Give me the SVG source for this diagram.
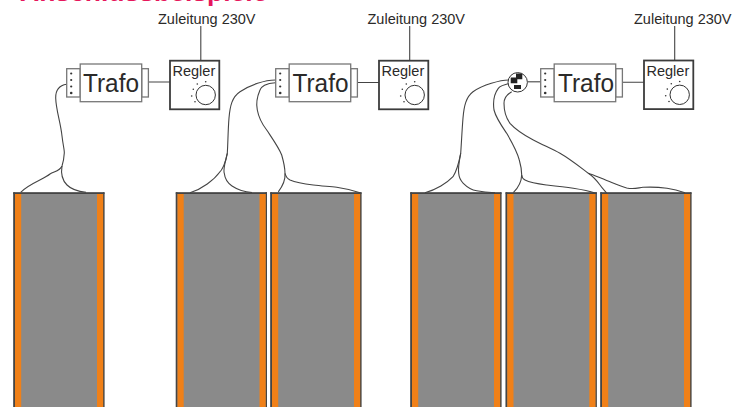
<svg xmlns="http://www.w3.org/2000/svg" width="748" height="407" viewBox="0 0 748 407">
<defs>
<style>
text{font-family:"Liberation Sans",Arial,sans-serif;fill:#2b2a29}
.title{font-size:26.500px;font-weight:bold;fill:#e6175c}
.z{font-size:14.500px}
.t{font-size:26px}
.r{font-size:14.500px}
.box{fill:#fff;stroke:#777;stroke-width:1.300}
.reg{fill:#fff;stroke:#3c3c3c;stroke-width:1.800}
.ln{fill:none;stroke:#444;stroke-width:1.100}
.w{fill:none;stroke:#444;stroke-width:1.100}
.d{fill:#333}
.panel{fill:#8a8a8a}
.o{fill:#f08018}
.edge{fill:#454545}
</style>
<g id="tr">
<rect class="box" x="0" y="4.700" width="13.500" height="28.300"/>
<rect class="box" x="75" y="4.700" width="6.700" height="28.300"/>
<rect class="box" x="13.500" y="0" width="61.500" height="37.700"/>
<circle class="d" cx="4.500" cy="9.500" r="1.100"/><circle class="d" cx="4.500" cy="16" r="1.100"/><circle class="d" cx="4.500" cy="22.500" r="1.100"/><circle class="d" cx="4.500" cy="29" r="1.300"/>
</g>
<g id="rg">
<rect class="reg" x="0" y="0" width="49.300" height="48.600"/>
<circle cx="35.700" cy="34.300" r="9.700" fill="#fff" stroke="#333" stroke-width="1"/>
<circle class="d" cx="35.700" cy="21" r=".8"/><circle class="d" cx="27.300" cy="23.300" r=".8"/><circle class="d" cx="23.300" cy="28.600" r=".8"/><circle class="d" cx="21.700" cy="35.300" r=".8"/><circle class="d" cx="25" cy="41" r=".8"/>
</g>
<g id="pn">
<rect class="panel" x="13.300" y="192.300" width="91" height="214.700"/>
<rect class="edge" x="13.300" y="192.300" width="1.700" height="214.700"/>
<rect class="edge" x="103" y="192.300" width="1.500" height="214.700"/>
<rect class="edge" x="13.300" y="192.300" width="91.200" height="1.700"/>
<rect class="o" x="15" y="194" width="6.200" height="213"/>
<rect class="o" x="97" y="194" width="6.200" height="213"/>
</g>
</defs>
<text class="title" x="20" y="0.800">Anschlussbeispiele</text>
<g id="panel-1"><use href="#pn"/></g>
<g id="panel-2"><use href="#pn" x="162.500"/></g>
<g id="panel-3"><use href="#pn" x="257"/></g>
<g id="panel-4"><use href="#pn" x="397"/></g>
<g id="panel-5"><use href="#pn" x="492.300"/></g>
<g id="panel-6"><use href="#pn" x="587"/></g>
<g id="connectors">
<path class="ln" d="M200.800 26V61M148 82H170"/>
<path class="ln" d="M409.700 26V61M357 82.500H379"/>
<path class="ln" d="M674.700 26V60M622 82.300H644"/>
<path class="ln" d="M528 81.800H541"/>
<path class="w" d="M66.700 84.300C59 85.500 55.500 90 55.700 98C56 110 60.500 122 62 136C63 145 64.500 150 64.300 153C64 158 63 163 62 166C60 171 54 171.500 50 174C44 179 28 184 20.700 192.300"/>
<path class="w" d="M62 166C61 172 62 180 67 185C71 189 78 191.500 86 192.300"/>
<path class="w" d="M275.300 80C265 80 250 85 240 91.700C232 97 230 106 229 118C228 130 228 142 227.300 153.300C226 162 222 170 220 171.700C214 180 202 189 190 192.800"/>
<path class="w" d="M227.300 153.300C225 162 223 170 224.300 173.300C225 180 229 184 232 186C238 190 245 192 252 192.500"/>
<path class="w" d="M275.300 82.700C266 83 261 87 260 90C257 97 256 104 257.300 110C259 119 262 124 266.700 130C274 141 279 148 281.700 155C284 163 285 168 285 173.300C285.500 180 282 187 278.300 191.800"/>
<path class="w" d="M285 173.300C286 177 288 179 290 180C297 183 305 184 313.300 185C322 186 330 186.500 336.700 187.300C345 188.500 353 190.500 360 192.700"/>
<path class="w" d="M508.700 80C500 80 483 85 473 91.700C466 97 464 106 463 118C462 130 461.500 142 460.700 153.300C459 162 456 172 453 176.700C447 183 436 190 425 192.700"/>
<path class="w" d="M460.700 153.300C459 162 458 170 458.700 173.300C459 178 461 181 463.300 183.300C468 188 472 190 476.700 190.700C483 192 490 192.500 495 192.700"/>
<path class="w" d="M510 83.300C505 84.500 500 86 498.300 88.300C494 94 493 103 494 110C496 118 501 125 506.700 133.300C513 144 517 151 519.300 160C521 166 521.700 170 521.700 175C521.500 181 518 188 513.300 192.700"/>
<path class="w" d="M521.700 175C522 178 523 179 525 180C531 183 539 184 546.700 185C556 186 565 187 573.300 188.300C581 189.500 589 191 595 193"/>
<path class="w" d="M511.700 91.700C506 95 504 99 504 103.300C504 110 506 118 510 123.300C516 130 524 135 533.300 140C543 145 552 149 560 153.300C570 159 580 167 588.300 173.300C594 177 597 181 600 185C602 188 605 191 606.700 193"/>
<path class="w" d="M588.300 173.300C594 175 600 178 606.700 180.500C613 183 619 186 626.700 188C634 189.500 638 187.800 643 187.300C651 186.800 660 187.300 667 188.300C674 189.300 680 191 685 192.700"/>
</g>
<g id="trafo-1"><use href="#tr" x="66.700" y="64"/><text class="t" x="83" y="92" textLength="56" lengthAdjust="spacingAndGlyphs">Trafo</text></g>
<g id="trafo-2"><use href="#tr" x="275.700" y="64"/><text class="t" x="292.500" y="92" textLength="56" lengthAdjust="spacingAndGlyphs">Trafo</text></g>
<g id="trafo-3"><use href="#tr" x="540.700" y="64"/><text class="t" x="558" y="92" textLength="56" lengthAdjust="spacingAndGlyphs">Trafo</text></g>
<g id="regler-1"><use href="#rg" x="170" y="60.700"/><text class="r" x="172.500" y="76">Regler</text></g>
<g id="regler-2"><use href="#rg" x="379" y="60.700"/><text class="r" x="381.500" y="76">Regler</text></g>
<g id="regler-3"><use href="#rg" x="644" y="60.500"/><text class="r" x="646.500" y="76">Regler</text></g>
<g id="splitter">
<circle cx="517.700" cy="82.300" r="9.700" fill="#fff" stroke="#333" stroke-width="1"/>
<path fill="#222" d="M516 73.500H522.300V79.300H517.300V83.300H510.700V77.500H516ZM514 85H521V89H514Z"/>
</g>
<text class="z" x="158" y="24">Zuleitung 230V</text>
<text class="z" x="367.500" y="24">Zuleitung 230V</text>
<text class="z" x="634" y="24">Zuleitung 230V</text>
</svg>
